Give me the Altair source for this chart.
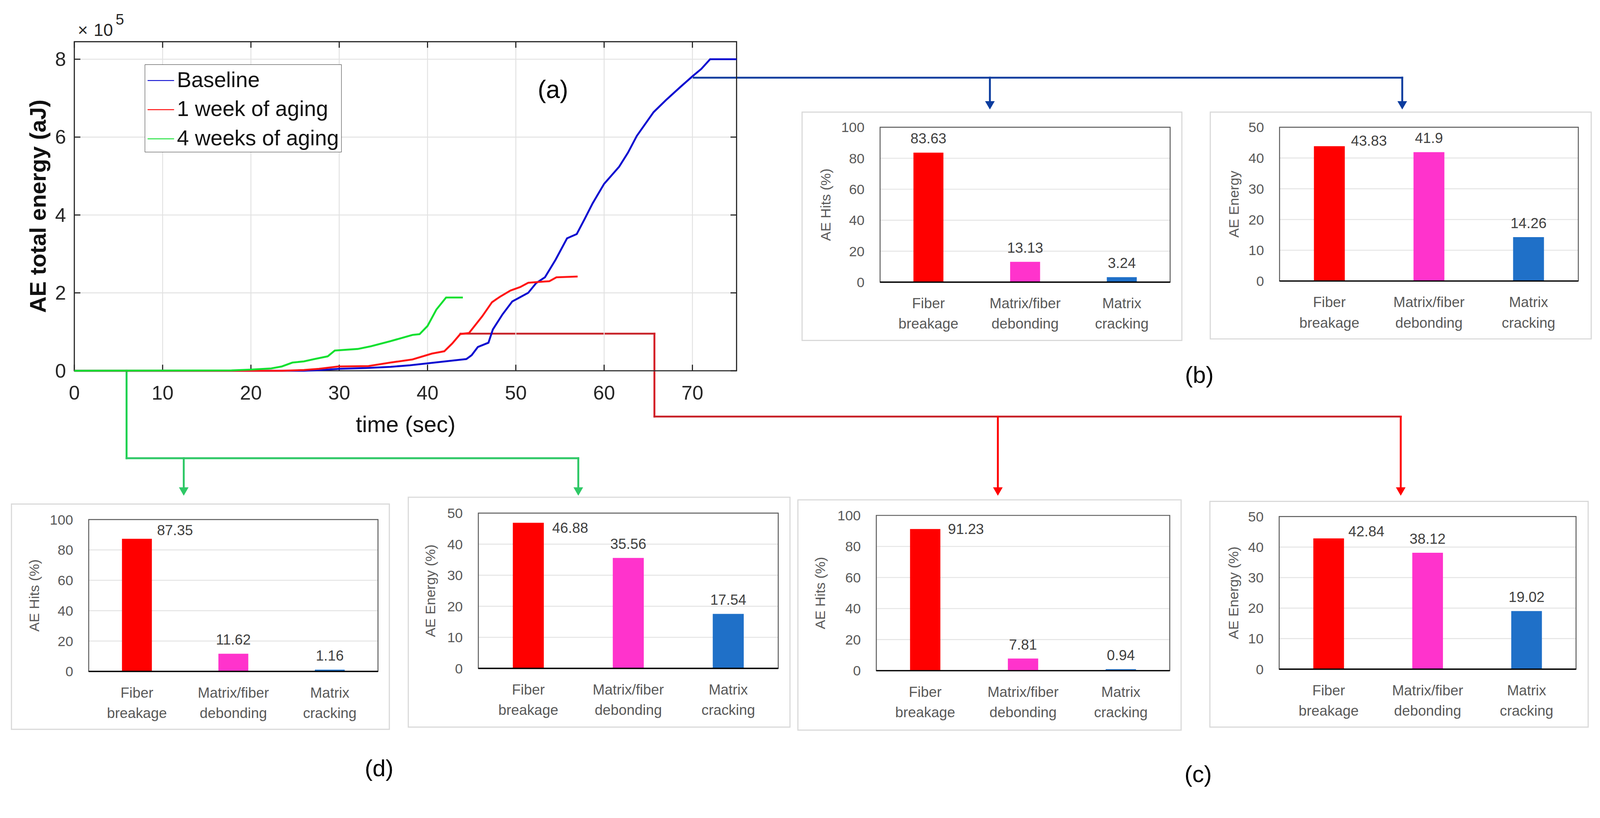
import altair as alt
import pandas as pd

# ------------------------------------------------------------------
# DATA
# (a) cumulative AE energy, y values in units of 1e5 aJ
series_names = ["Baseline", "1 week of aging", "4 weeks of aging"]
series_colors = ["#0b0bd0", "#ff1414", "#12e030"]

baseline_t = [0, 26.0, 28.0, 30.0, 33.0, 35.8, 38.0, 40.0, 42.0, 44.4, 45.0, 45.7, 46.9, 47.4,
              48.5, 49.6, 51.4, 52.3, 53.3, 54.5, 55.8, 56.9, 57.8, 58.7, 60.0, 61.7, 62.7,
              63.7, 65.6, 67.0, 68.6, 70.0, 71.0, 72.0, 75.0]
baseline_e = [0, 0.0, 0.02, 0.05, 0.07, 0.10, 0.14, 0.19, 0.24, 0.30, 0.40, 0.61, 0.72, 1.06,
              1.45, 1.78, 2.00, 2.25, 2.40, 2.85, 3.40, 3.51, 3.90, 4.30, 4.80, 5.24, 5.60,
              6.03, 6.64, 6.95, 7.28, 7.56, 7.75, 8.00, 8.00]

week1_t = [0, 20.0, 23.5, 26.0, 27.7, 29.9, 33.3, 35.8, 38.3, 40.5, 41.9, 42.8, 43.7, 44.7,
           46.2, 47.3, 48.2, 49.4, 50.5, 51.4, 52.5, 53.8, 54.6, 57.0]
week1_e = [0, 0.0, 0.0, 0.02, 0.05, 0.11, 0.12, 0.21, 0.29, 0.44, 0.50, 0.70, 0.94, 0.97,
           1.40, 1.76, 1.90, 2.06, 2.15, 2.26, 2.28, 2.30, 2.40, 2.42]

week4_t = [0, 17.8, 20.0, 22.3, 23.5, 24.7, 26.0, 27.2, 28.7, 29.5, 32.1, 33.6, 35.8, 38.3,
           39.1, 40.0, 41.0, 42.1, 44.0]
week4_e = [0, 0.01, 0.03, 0.06, 0.11, 0.21, 0.24, 0.30, 0.37, 0.52, 0.56, 0.63, 0.76, 0.92,
           0.94, 1.15, 1.57, 1.88, 1.88]

x_ticks_main = [0, 10, 20, 30, 40, 50, 60, 70]
y_ticks_main = [0, 2, 4, 6, 8]
x_domain_main = [0, 75]
y_domain_main = [0, 8.45]

# (b)-(d) damage-mechanism shares
categories = ["Fiber breakage", "Matrix/fiber debonding", "Matrix cracking"]
bar_colors = ["#ff0000", "#ff33cc", "#1f70c8"]

hits_baseline = [83.63, 13.13, 3.24]
energy_baseline = [43.83, 41.9, 14.26]
hits_week4 = [87.35, 11.62, 1.16]
energy_week4 = [46.88, 35.56, 17.54]
hits_week1 = [91.23, 7.81, 0.94]
energy_week1 = [42.84, 38.12, 19.02]

# ------------------------------------------------------------------
# LAYOUT (reference-image pixels)
FONT = "Liberation Sans"
W, H = 4209, 2078
MX = 8    # horizontal page margin
MY = 40   # vertical offset observed on the page


def cx(v):
    return v - MX


def cy(v):
    return v - MY


MAIN_BOX = dict(left=196, right=1945, top=109, bottom=978)

PANELS = [
    dict(values=hits_baseline, ymax=100, title="AE Hits (%)", titleX=-142,
         frame=(2118, 295, 3121, 898), plot=(2324, 335, 3090, 744), side=None),
    dict(values=energy_baseline, ymax=50, title="AE Energy", titleX=-119,
         frame=(3196, 295, 4202, 894), plot=(3379, 335, 4168, 741), side=(57, -1)),
    dict(values=hits_week4, ymax=100, title="AE Hits (%)", titleX=-142,
         frame=(30, 1330, 1028, 1925), plot=(234, 1371, 998, 1772), side=(53, -9)),
    dict(values=energy_week4, ymax=50, title="AE Energy (%)", titleX=-125,
         frame=(1078, 1312, 2086, 1919), plot=(1263, 1354, 2055, 1764), side=(63, 26)),
    dict(values=hits_week1, ymax=100, title="AE Hits (%)", titleX=-146,
         frame=(2107, 1319, 3119, 1927), plot=(2314, 1360, 3089, 1770), side=(60, 13)),
    dict(values=energy_week1, ymax=50, title="AE Energy (%)", titleX=-119,
         frame=(3195, 1323, 4194, 1919), plot=(3378, 1363, 4162, 1766), side=(52, -5)),
]

# connector polylines (x1, y1, x2, y2, colour)
SEGMENTS = [
    (1829, 204, 3703, 204, "#0b3c9e"),
    (2614, 204, 2614, 280, "#0b3c9e"),
    (3703, 204, 3703, 280, "#0b3c9e"),
    (1216, 880, 1728, 880, "#c8232a"),
    (1728, 880, 1728, 1099, "#d41f26"),
    (1728, 1099, 3699, 1099, "#c8232a"),
    (2635, 1099, 2635, 1298, "#ff0000"),
    (3699, 1099, 3699, 1298, "#ff0000"),
    (334, 978, 334, 1209, "#14d04c"),
    (334, 1209, 1527, 1209, "#2ec866"),
    (485, 1209, 485, 1298, "#2ec866"),
    (1527, 1209, 1527, 1298, "#2ec866"),
]
ARROWS = [
    (2614, 277, "#0b3c9e"), (3703, 277, "#0b3c9e"),
    (2635, 1297, "#ff0000"), (3699, 1297, "#ff0000"),
    (485, 1297, "#2ec866"), (1527, 1297, "#2ec866"),
]
PANEL_TAGS = [("(a)", 1460, 238, 66), ("(b)", 3167, 991, 62),
              ("(c)", 3164, 2045, 62), ("(d)", 1001, 2030, 62)]

ONE = pd.DataFrame({"k": [0]})
AXCOL = "#262626"
GREY = "#595959"


# ------------------------------------------------------------------
def main_panel():
    L, R = cx(MAIN_BOX["left"]), cx(MAIN_BOX["right"])
    T, B = cy(MAIN_BOX["top"]), cy(MAIN_BOX["bottom"])
    xs = alt.Scale(domain=x_domain_main, range=[L, R], nice=False, zero=False)
    ys = alt.Scale(domain=y_domain_main, range=[B, T], nice=False, zero=False)
    lo, hi = y_domain_main
    xl, xr = x_domain_main

    xt = pd.DataFrame({"t": x_ticks_main, "lo": lo, "hi": hi})
    yt = pd.DataFrame({"e": y_ticks_main, "l": xl, "r": xr})
    box = pd.DataFrame({"l": [xl], "r": [xr], "lo": [lo], "hi": [hi]})

    X = lambda f: alt.X(f, scale=xs, axis=None)
    Y = lambda f: alt.Y(f, scale=ys, axis=None)

    gx = alt.Chart(xt).mark_rule(color="#e2e2e2", strokeWidth=2.5).encode(
        x=X("t:Q"), y=Y("lo:Q"), y2="hi:Q")
    gy = alt.Chart(yt).mark_rule(color="#e2e2e2", strokeWidth=2.5).encode(
        y=Y("e:Q"), x=X("l:Q"), x2="r:Q")
    frame = alt.Chart(box).mark_rect(fill="white", fillOpacity=0, stroke=AXCOL,
                                     strokeWidth=3).encode(
        x=X("l:Q"), x2="r:Q", y=Y("lo:Q"), y2="hi:Q")
    tb = alt.Chart(xt).mark_rule(color=AXCOL, strokeWidth=3, y2Offset=-16).encode(
        x=X("t:Q"), y=Y("lo:Q"), y2="lo:Q")
    tt = alt.Chart(xt).mark_rule(color=AXCOL, strokeWidth=3, y2Offset=16).encode(
        x=X("t:Q"), y=Y("hi:Q"), y2="hi:Q")
    tl = alt.Chart(yt).mark_rule(color=AXCOL, strokeWidth=3, x2Offset=16).encode(
        y=Y("e:Q"), x=X("l:Q"), x2="l:Q")
    tr = alt.Chart(yt).mark_rule(color=AXCOL, strokeWidth=3, x2Offset=-16).encode(
        y=Y("e:Q"), x=X("r:Q"), x2="r:Q")

    # tick labels
    xlab = alt.Chart(xt).mark_text(baseline="top", dy=35, fontSize=52, color=AXCOL,
                                   font=FONT).encode(x=X("t:Q"), y=Y("lo:Q"), text="t:Q")
    ylab = alt.Chart(yt).mark_text(align="right", baseline="middle", dx=-22, dy=2,
                                   fontSize=52, color=AXCOL, font=FONT).encode(
        x=X("l:Q"), y=Y("e:Q"), text="e:Q")
    # axis titles
    xtitle = alt.Chart(pd.DataFrame({"txt": ["time (sec)"]})).mark_text(
        align="center", baseline="middle", fontSize=60, color="#111111", font=FONT).encode(
        x=alt.value(cx(1071)), y=alt.value(cy(1122)), text="txt:N")
    ytitle = alt.Chart(pd.DataFrame({"txt": ["AE total energy (aJ)"]})).mark_text(
        align="center", baseline="middle", angle=270, fontSize=60, fontWeight="bold",
        color="#111111", font=FONT).encode(
        x=alt.value(cx(102)), y=alt.value((T + B) / 2), text="txt:N")

    rows = []
    for name, ts, es in zip(series_names, [baseline_t, week1_t, week4_t],
                            [baseline_e, week1_e, week4_e]):
        for t, e in zip(ts, es):
            rows.append({"t": t, "e": e, "series": name})
    curves = pd.DataFrame(rows)

    lines = alt.Chart(curves).mark_line(strokeWidth=5).encode(
        x=X("t:Q"),
        y=Y("e:Q"),
        color=alt.Color("series:N", sort=series_names,
                        scale=alt.Scale(domain=series_names, range=series_colors),
                        legend=alt.Legend(
                            orient="none", legendX=cx(382), legendY=cy(169), title=None,
                            symbolType="stroke", symbolSize=4900, symbolStrokeWidth=2.5,
                            labelFontSize=57, labelColor="#111111", labelFont=FONT,
                            labelLimit=900, padding=6, rowPadding=12, labelOffset=6,
                            strokeColor="#262626", fillColor="white",
                            direction="vertical")),
        detail="series:N",
    )

    return alt.layer(gx, gy, frame, tb, tt, tl, tr, xlab, ylab, xtitle, ytitle, lines)


def bar_panel(p):
    L, R = cx(p["plot"][0]), cx(p["plot"][2])
    T, B = cy(p["plot"][1]), cy(p["plot"][3])
    fl, fr = cx(p["frame"][0]), cx(p["frame"][2])
    ft, fb = cy(p["frame"][1]), cy(p["frame"][3])
    ymax = p["ymax"]
    ticks = list(range(0, ymax + 1, ymax // 5))
    df = pd.DataFrame({"cat": categories, "val": p["values"]})

    xsc = alt.Scale(domain=categories, range=[L, R], paddingInner=0.69, paddingOuter=0.345)
    ysc = alt.Scale(domain=[0, ymax], range=[B, T], nice=False, zero=True)
    X = alt.X("cat:N", sort=categories, scale=xsc, axis=None)
    Yv = lambda f: alt.Y(f, scale=ysc, axis=None)

    outer = alt.Chart(ONE).mark_rect(fill="white", stroke="#d9d9d9", strokeWidth=3).encode(
        x=alt.value(fl), x2=alt.value(fr), y=alt.value(ft), y2=alt.value(fb))
    grid = alt.Chart(pd.DataFrame({"v": ticks[1:-1]})).mark_rule(
        color="#e4e4e4", strokeWidth=2.5).encode(
        y=Yv("v:Q"), x=alt.value(L), x2=alt.value(R))
    box = alt.Chart(ONE).mark_rect(fill="white", fillOpacity=0, stroke=GREY,
                                   strokeWidth=2.5).encode(
        x=alt.value(L), x2=alt.value(R), y=alt.value(T), y2=alt.value(B))
    bars = alt.Chart(df).mark_bar().encode(
        x=X,
        y=Yv("val:Q"),
        color=alt.Color("cat:N", scale=alt.Scale(domain=categories, range=bar_colors),
                        legend=None),
    )
    base_line = alt.Chart(ONE).mark_rule(color="#000000", strokeWidth=3.5).encode(
        y=alt.value(B), x=alt.value(L), x2=alt.value(R))

    ylab = alt.Chart(pd.DataFrame({"v": ticks})).mark_text(
        align="right", baseline="middle", dy=2, fontSize=37, color=GREY, font=FONT).encode(
        y=Yv("v:Q"), x=alt.value(L - 41), text="v:Q")
    xlab = alt.Chart(df).mark_text(
        align="center", baseline="top", lineBreak=" ", lineHeight=54, dy=39, fontSize=38,
        color=GREY, font=FONT).encode(x=X, y=alt.value(B), text="cat:N")
    ytitle = alt.Chart(pd.DataFrame({"txt": [p["title"]]})).mark_text(
        align="center", baseline="middle", angle=270, fontSize=37, color=GREY,
        font=FONT).encode(x=alt.value(L + p["titleX"]), y=alt.value((T + B) / 2),
                          text="txt:N")

    enc = dict(x=X, y=Yv("val:Q"), text=alt.Text("val:Q"))
    layers = [outer, grid, box, bars, base_line, ylab, xlab, ytitle]
    centred = alt.Chart(df)
    if p["side"] is not None:
        centred = centred.transform_filter(alt.datum.cat != categories[0])
    layers.append(centred.mark_text(baseline="alphabetic", dy=-24, fontSize=38,
                                    color="#404040", font=FONT).encode(**enc))
    if p["side"] is not None:
        dx, dy = p["side"]
        layers.append(alt.Chart(df).transform_filter(alt.datum.cat == categories[0])
                      .mark_text(align="left", baseline="alphabetic", dx=dx, dy=dy,
                                 fontSize=38, color="#404040", font=FONT).encode(**enc))
    return alt.layer(*layers)


# connectors
seg_df = pd.DataFrame([{"x": cx(a), "y": cy(b), "x2": cx(c2), "y2": cy(d), "col": col}
                       for a, b, c2, d, col in SEGMENTS])
connectors = alt.Chart(seg_df).mark_rule(strokeWidth=5, strokeCap="square").encode(
    x=alt.X("x:Q", scale=None, axis=None), y=alt.Y("y:Q", scale=None, axis=None),
    x2="x2:Q", y2="y2:Q", color=alt.Color("col:N", scale=None))
arr_df = pd.DataFrame([{"x": cx(a), "y": cy(b), "col": col} for a, b, col in ARROWS])
arrowheads = alt.Chart(arr_df).mark_point(shape="triangle-down", filled=True, size=650,
                                          opacity=1).encode(
    x=alt.X("x:Q", scale=None, axis=None), y=alt.Y("y:Q", scale=None, axis=None),
    color=alt.Color("col:N", scale=None))

# panel letters
tag_df = pd.DataFrame([{"txt": t, "x": cx(a), "y": cy(b), "fs": f}
                       for t, a, b, f in PANEL_TAGS])
tags = alt.Chart(tag_df).mark_text(align="center", baseline="middle", color="#000000",
                                   font=FONT).encode(
    x=alt.X("x:Q", scale=None, axis=None), y=alt.Y("y:Q", scale=None, axis=None),
    text="txt:N", size=alt.Size("fs:Q", scale=None, legend=None))

# x10^5 exponent label
exp_df = pd.DataFrame([{"txt": "\u00d7", "x": cx(205), "y": cy(94), "fs": 46},
                       {"txt": "10", "x": cx(247), "y": cy(94), "fs": 46},
                       {"txt": "5", "x": cx(305), "y": cy(64), "fs": 40}])
exponent = alt.Chart(exp_df).mark_text(align="left", baseline="alphabetic",
                                       color="#262626", font=FONT).encode(
    x=alt.X("x:Q", scale=None, axis=None), y=alt.Y("y:Q", scale=None, axis=None),
    text="txt:N", size=alt.Size("fs:Q", scale=None, legend=None))

chart = alt.layer(
    connectors,
    main_panel(),
    *[bar_panel(p) for p in PANELS],
    arrowheads,
    tags,
    exponent,
).resolve_scale(
    x="independent", y="independent", color="independent", size="independent"
).properties(
    width=W, height=H, autosize=alt.AutoSizeParams(type="none"), padding=0,
    background="white",
).configure(font=FONT).configure_view(stroke="transparent")

chart.save("out.html", embed_options={"renderer": "svg", "actions": False})
